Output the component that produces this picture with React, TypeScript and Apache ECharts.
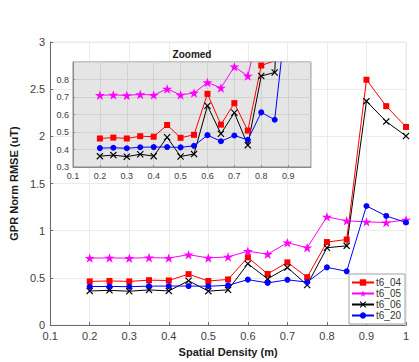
import React, { useEffect, useRef } from "react";
import * as echarts from "echarts";

const xVals = [0.2, 0.25, 0.3, 0.35, 0.4, 0.45, 0.5, 0.55, 0.6, 0.65, 0.7, 0.75, 0.8, 0.85, 0.9, 0.95, 1.0];
const t6_04 = [0.463, 0.468, 0.463, 0.476, 0.473, 0.54, 0.467, 0.484, 0.718, 0.542, 0.665, 0.508, 0.88, 0.907, 2.6, 2.32, 2.1];
const t6_05 = [0.71, 0.712, 0.709, 0.715, 0.711, 0.746, 0.712, 0.723, 0.783, 0.752, 0.873, 0.82, 1.147, 1.105, 1.094, 1.087, 1.115];
const t6_06 = [0.362, 0.368, 0.359, 0.373, 0.362, 0.47, 0.36, 0.374, 0.65, 0.49, 0.61, 0.425, 0.82, 0.84, 2.373, 2.157, 2.004];
const t6_20 = [0.408, 0.41, 0.407, 0.413, 0.414, 0.414, 0.412, 0.421, 0.482, 0.447, 0.48, 0.455, 0.612, 0.57, 1.262, 1.157, 1.087];

const seriesNames = ["t6_04", "t6_05", "t6_06", "t6_20"];
const seriesValues = [t6_04, t6_05, t6_06, t6_20];
const seriesColors = ["#ff0000", "#ff00ff", "#000000", "#0000ff"];

const STAR = "path://M50,0 L61.2,34.5 L97.6,34.5 L68.2,55.9 L79.4,90.5 L50,69.1 L20.6,90.5 L31.8,55.9 L2.4,34.5 L38.8,34.5 Z";
const CROSS = "path://M0,1.2 L1.2,0 L5,3.8 L8.8,0 L10,1.2 L6.2,5 L10,8.8 L8.8,10 L5,6.2 L1.2,10 L0,8.8 L3.8,5 Z";
const seriesSymbols = ["rect", STAR, CROSS, "circle"];
const seriesSymbolSizes = [6, 10, 7, 6];

const FONT = "'Liberation Sans', Arial, sans-serif";

const fmt = (v: number) => {
  const r = Math.round(v * 10) / 10;
  if (Math.abs(r - v) > 1e-6) return "";
  return r === 1 ? "1" : r === 0 ? "0" : String(r);
};

export default function App() {
  const ref = useRef<HTMLDivElement>(null);
  useEffect(() => {
    if (!ref.current) return;
    const chart = echarts.init(ref.current, null, { renderer: "svg" });

    const mkSeries = (idx: number, inset: boolean) => ({
      type: "line",
      name: seriesNames[idx],
      xAxisIndex: inset ? 1 : 0,
      yAxisIndex: inset ? 1 : 0,
      data: xVals.map((x, i) => [x, seriesValues[idx][i]]),
      symbol: seriesSymbols[idx],
      symbolSize: seriesSymbolSizes[idx],
      symbolKeepAspect: true,
      showSymbol: true,
      clip: true,
      z: inset ? 12 : 2,
      lineStyle: { color: seriesColors[idx], width: 1 },
      itemStyle: { color: seriesColors[idx], borderWidth: 0 },
    });

    const tickLabel = (size: number) => ({
      color: "#404040",
      fontSize: size,
      fontFamily: FONT,
    });

    chart.setOption({
      animation: false,
      backgroundColor: "#ffffff",
      textStyle: { fontFamily: FONT },
      grid: [
        { left: 38, right: 13, top: 42, bottom: 33, show: true, borderColor: "#e6e6e6", borderWidth: 1, backgroundColor: "transparent" },
        { left: 73, width: 238, top: 62, height: 105, show: true, borderColor: "#8a8a8a", borderWidth: 1, backgroundColor: "#e5e5e5", z: 10 },
      ],
      xAxis: [
        {
          type: "value", gridIndex: 0, min: 0.1, max: 1, interval: 0.1,
          name: "Spatial Density (m)", nameLocation: "middle", nameGap: 19,
          nameTextStyle: { fontWeight: "bold", fontSize: 11, color: "#1a1a1a", fontFamily: FONT },
          axisLine: { show: true, lineStyle: { color: "#6b6b6b", width: 1 } },
          axisTick: { show: true, inside: true, length: 3, lineStyle: { color: "#6b6b6b" } },
          axisLabel: { ...tickLabel(11), formatter: fmt, margin: 5 },
          splitLine: { show: true, lineStyle: { color: "#ebebeb", width: 1 } },
        },
        {
          type: "value", gridIndex: 1, min: 0.1, max: 0.985, interval: 0.1, z: 11,
          axisLine: { show: true, lineStyle: { color: "#8a8a8a", width: 1 } },
          axisTick: { show: true, inside: true, length: 2, lineStyle: { color: "#8a8a8a" } },
          axisLabel: { ...tickLabel(9), formatter: fmt, margin: 4, showMaxLabel: false },
          splitLine: { show: true, lineStyle: { color: "#d2d2d2", width: 1 } },
        },
      ],
      yAxis: [
        {
          type: "value", gridIndex: 0, min: 0, max: 3, interval: 0.5,
          name: "GPR Norm RMSE (uT)", nameLocation: "middle", nameGap: 20, nameRotate: 90,
          nameTextStyle: { fontWeight: "bold", fontSize: 11, color: "#1a1a1a", fontFamily: FONT },
          axisLine: { show: true, lineStyle: { color: "#6b6b6b", width: 1 } },
          axisTick: { show: true, inside: true, length: 3, lineStyle: { color: "#6b6b6b" } },
          axisLabel: { ...tickLabel(11), margin: 5 },
          splitLine: { show: true, lineStyle: { color: "#ebebeb", width: 1 } },
        },
        {
          type: "value", gridIndex: 1, min: 0.3, max: 0.9, interval: 0.1, z: 11,
          axisLine: { show: true, lineStyle: { color: "#8a8a8a", width: 1 } },
          axisTick: { show: true, inside: true, length: 2, lineStyle: { color: "#8a8a8a" } },
          axisLabel: { ...tickLabel(9), formatter: fmt, margin: 4, showMaxLabel: false },
          splitLine: { show: true, lineStyle: { color: "#d2d2d2", width: 1 } },
        },
      ],
      legend: {
        data: seriesNames,
        orient: "vertical",
        left: 349,
        top: 274,
        z: 20,
        backgroundColor: "#ffffff",
        borderColor: "#a0a0a0",
        borderWidth: 1,
        borderRadius: 0,
        padding: [3, 4, 3, 2],
        itemGap: 0,
        itemWidth: 22,
        itemHeight: 8,
        selectedMode: false,
        textStyle: { fontSize: 10, lineHeight: 11, color: "#333333", fontFamily: FONT, padding: [0, 0, 0, -3] },
      },
      graphic: [
        {
          type: "text",
          x: 192,
          y: 54,
          z: 20,
          style: {
            text: "Zoomed",
            fontSize: 10,
            fontWeight: "bold",
            fontFamily: FONT,
            fill: "#1a1a1a",
            align: "center",
            verticalAlign: "middle",
          },
        },
      ],
      series: [
        ...seriesNames.map((_, i) => mkSeries(i, false)),
        ...seriesNames.map((_, i) => mkSeries(i, true)),
      ],
    });
    return () => chart.dispose();
  }, []);
  return (
    <div
      ref={ref}
      style={{ position: "fixed", left: 0, top: 0, width: 419, height: 362 }}
    />
  );
}
